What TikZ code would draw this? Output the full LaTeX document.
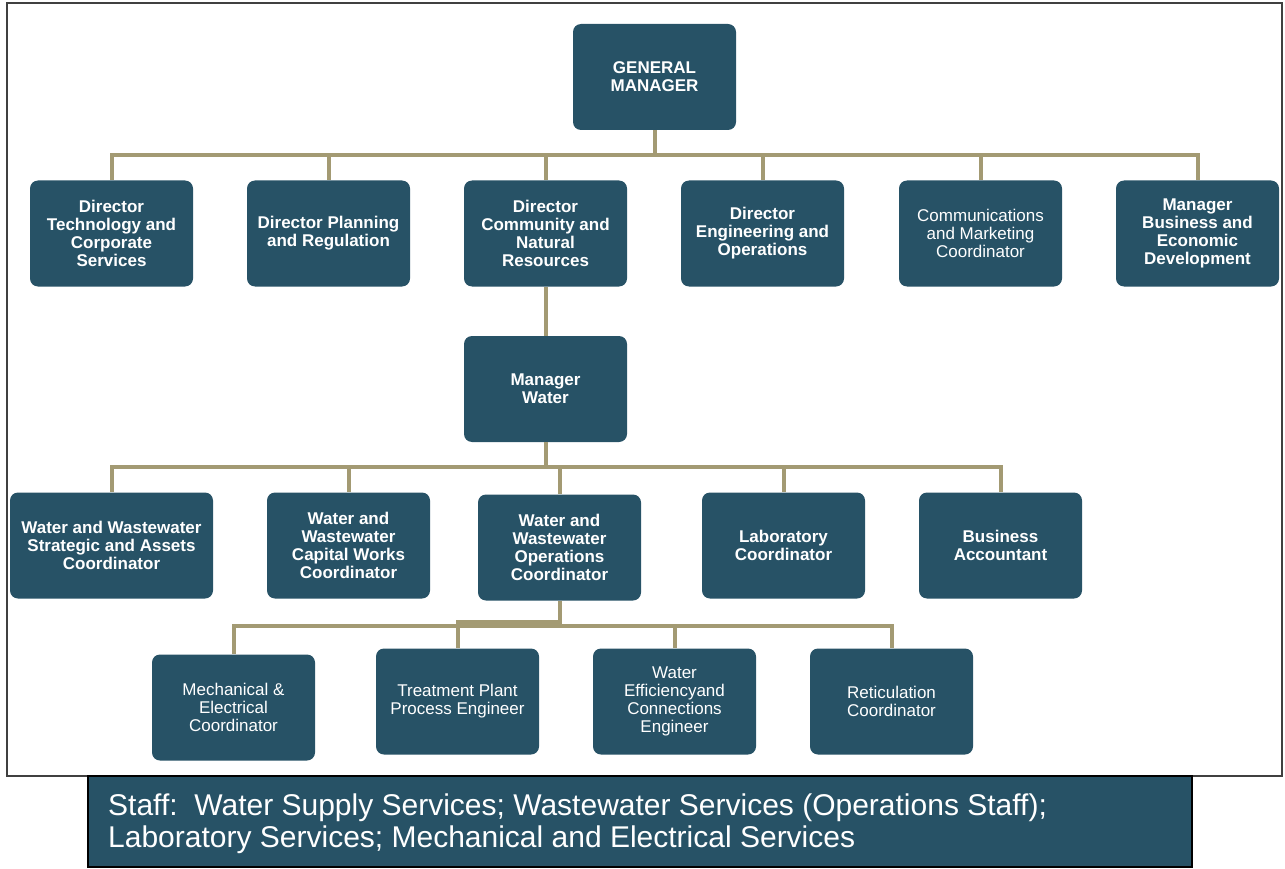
\documentclass[tikz,border=0pt]{standalone}
\usepackage{fontspec}
\setmainfont{Liberation Sans}
\definecolor{boxblue}{HTML}{275266}
\definecolor{linktan}{HTML}{A39A73}
\tikzset{
  post/.style={fill=boxblue,rounded corners=8pt,minimum width=163pt,minimum height=106pt,
    text=white,align=center,inner sep=2pt,font=\fontsize{17}{18}\selectfont\bfseries},
  postlight/.style={post,font=\fontsize{17}{18}\selectfont},
  link/.style={draw=linktan,line width=4pt}
}
\begin{document}
\begin{tikzpicture}[x=1pt,y=-1pt]
\useasboundingbox (0,0) rectangle (1285,869);
\draw[draw=black!75,line width=1.2pt] (7,3) rectangle (1282,776);
\node[post] (gm) at (654.5,77) {GENERAL\\MANAGER};
\node[post] (dtech) at (111.5,233.5) {Director\\Technology and\\Corporate\\Services};
\node[post] (dplan) at (328.5,233.5) {Director Planning\\and Regulation};
\node[post] (dcomm) at (545.5,233.5) {Director\\Community and\\Natural\\Resources};
\node[post] (deng) at (762.5,233.5) {Director\\Engineering and\\Operations};
\node[postlight] (ccomm) at (980.5,233.5) {Communications\\and Marketing\\Coordinator};
\node[post] (mbus) at (1197.5,233.5) {Manager\\Business and\\Economic\\Development};
\node[post] (mwater) at (545.5,389) {Manager\\Water};
\node[post,minimum width=203pt] (cstrat) at (111.5,545.5) {Water and Wastewater\\Strategic and Assets\\Coordinator};
\node[post] (ccap) at (348.5,545.5) {Water and\\Wastewater\\Capital Works\\Coordinator};
\node[post] (cops) at (559.5,547.5) {Water and\\Wastewater\\Operations\\Coordinator};
\node[post] (clab) at (783.5,545.5) {Laboratory\\Coordinator};
\node[post] (acct) at (1000.5,545.5) {Business\\Accountant};
\node[postlight] (cmech) at (233.5,707.5) {Mechanical \&\\Electrical\\Coordinator};
\node[postlight] (etreat) at (457.5,701.5) {Treatment Plant\\Process Engineer};
\node[postlight] (eeff) at (674.5,701.5) {Water\\Efficiencyand\\Connections\\Engineer};
\node[postlight] (cret) at (891.5,701.5) {Reticulation\\Coordinator};
% top level
\foreach \n in {dtech,dplan,dcomm,deng,ccomm,mbus}
  \draw[link] (gm.south) -- ++(0,25) -| (\n.north);
\draw[link] (dcomm.south) -- (mwater.north);
% water branch
\foreach \n in {cstrat,ccap,clab,acct}
  \draw[link] (mwater.south) -- ++(0,25) -| (\n.north);
\draw[link] (mwater.south) -- ++(0,25) -| (cops.north);
\foreach \n in {cmech,eeff,cret}
  \draw[link] (cops.south) -- ++(0,25) -| (\n.north);
\draw[link] (cops.south) -- ++(0,21) -| (etreat.north);
\node[fill=boxblue,draw=black,line width=1.5pt,minimum width=1104pt,minimum height=91pt] (staffbox) at (640,821.5) {};
\node[anchor=west,inner sep=0pt,text=white,align=left,font=\fontsize{30}{32}\selectfont] (staff) at (108,824)
  {Staff:\ \ Water Supply Services; Wastewater Services (Operations Staff);\\Laboratory Services; Mechanical and Electrical Services};
\end{tikzpicture}
\end{document}
